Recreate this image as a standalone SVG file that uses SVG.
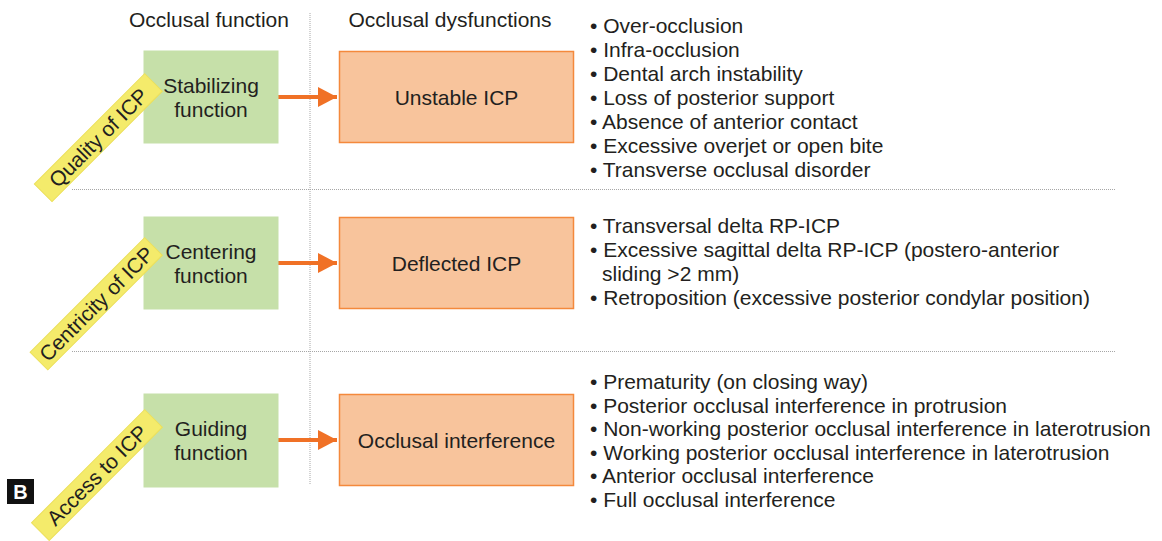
<svg xmlns="http://www.w3.org/2000/svg" width="1162" height="541" viewBox="0 0 1162 541">
<style>
  text { font-family: "Liberation Sans", Arial, sans-serif; font-size: 21px; fill: #231f20; }
  .mid { text-anchor: middle; }
  .green { fill: #c6e0a9; stroke: #c6e0a9; stroke-width: 1; }
  .orange { fill: #f8c49c; stroke: #f4893c; stroke-width: 1.5; }
  .yellow { fill: #f4eb6b; stroke: #ece05a; stroke-width: 1; }
  .dot { stroke: #a6a6a6; stroke-width: 1; stroke-dasharray: 1 1; fill: none; }
  .conn { stroke: #f07126; stroke-width: 4; fill: none; }
</style>
<defs>
  <marker id="ah" markerUnits="userSpaceOnUse" markerWidth="20" markerHeight="22" refX="19" refY="11" orient="auto">
    <path d="M0,1 L19,11 L0,21 Z" fill="#f07126"/>
  </marker>
</defs>
<rect width="1162" height="541" fill="#ffffff"/>

<g id="grid">
  <line class="dot" x1="310" y1="13" x2="310" y2="484"/>
  <line class="dot" x1="72" y1="189.5" x2="1115" y2="189.5"/>
  <line class="dot" x1="72" y1="351.5" x2="1115" y2="351.5"/>
</g>

<g id="headers">
  <text class="mid" x="209" y="27">Occlusal function</text>
  <text class="mid" x="450" y="27">Occlusal dysfunctions</text>
</g>

<g id="connectors">
  <line class="conn" x1="278" y1="97" x2="337" y2="97" marker-end="url(#ah)"/>
  <line class="conn" x1="278" y1="263" x2="337" y2="263" marker-end="url(#ah)"/>
  <line class="conn" x1="278" y1="440" x2="337" y2="440" marker-end="url(#ah)"/>
</g>

<g id="stabilizing">
  <rect class="green" x="144" y="51" width="134" height="92"/>
  <text class="mid" x="211" y="92.5">Stabilizing</text>
  <text class="mid" x="211" y="116.5">function</text>
</g>
<g id="centering">
  <rect class="green" x="144" y="217" width="134" height="92"/>
  <text class="mid" x="211" y="258.5">Centering</text>
  <text class="mid" x="211" y="282.5">function</text>
</g>
<g id="guiding">
  <rect class="green" x="144" y="394" width="134" height="93"/>
  <text class="mid" x="211" y="436">Guiding</text>
  <text class="mid" x="211" y="460">function</text>
</g>

<g id="unstable">
  <rect class="orange" x="339.5" y="51.5" width="234" height="91"/>
  <text class="mid" x="456.5" y="104.5">Unstable ICP</text>
</g>
<g id="deflected">
  <rect class="orange" x="339.5" y="217.5" width="234" height="91"/>
  <text class="mid" x="456.5" y="270.5">Deflected ICP</text>
</g>
<g id="interference">
  <rect class="orange" x="339.5" y="394.5" width="234" height="91"/>
  <text class="mid" x="456.5" y="447.5">Occlusal interference</text>
</g>

<g id="quality" transform="translate(153.5,82.5) rotate(-45)">
  <rect class="yellow" x="-156" y="-12.5" width="156" height="25"/>
  <text class="mid" x="-78" y="7.5">Quality of ICP</text>
</g>
<g id="centricity" transform="translate(153.5,246.5) rotate(-45)">
  <rect class="yellow" x="-162" y="-12.5" width="162" height="25"/>
  <text class="mid" x="-81" y="7.5">Centricity of ICP</text>
</g>
<g id="access" transform="translate(153.5,418.5) rotate(-45)">
  <rect class="yellow" x="-160" y="-12.5" width="160" height="25"/>
  <text class="mid" x="-80" y="7.5">Access to ICP</text>
</g>

<g id="list1">
  <text x="590" y="33">• Over-occlusion</text>
  <text x="590" y="57">• Infra-occlusion</text>
  <text x="590" y="81">• Dental arch instability</text>
  <text x="590" y="105">• Loss of posterior support</text>
  <text x="590" y="129">• Absence of anterior contact</text>
  <text x="590" y="153">• Excessive overjet or open bite</text>
  <text x="590" y="177">• Transverse occlusal disorder</text>
</g>
<g id="list2">
  <text x="590" y="233">• Transversal delta RP-ICP</text>
  <text x="590" y="257">• Excessive sagittal delta RP-ICP (postero-anterior</text>
  <text x="602" y="281">sliding &gt;2 mm)</text>
  <text x="590" y="305">• Retroposition (excessive posterior condylar position)</text>
</g>
<g id="list3">
  <text x="590" y="389">• Prematurity (on closing way)</text>
  <text x="590" y="412.6">• Posterior occlusal interference in protrusion</text>
  <text x="590" y="436.2">• Non-working posterior occlusal interference in laterotrusion</text>
  <text x="590" y="459.8">• Working posterior occlusal interference in laterotrusion</text>
  <text x="590" y="483.4">• Anterior occlusal interference</text>
  <text x="590" y="507">• Full occlusal interference</text>
</g>

<g id="panel-label">
  <rect x="7" y="479" width="27" height="25" fill="#111111"/>
  <text x="20.5" y="499" class="mid" style="fill:#ffffff;font-weight:bold;font-size:20px">B</text>
</g>
</svg>
